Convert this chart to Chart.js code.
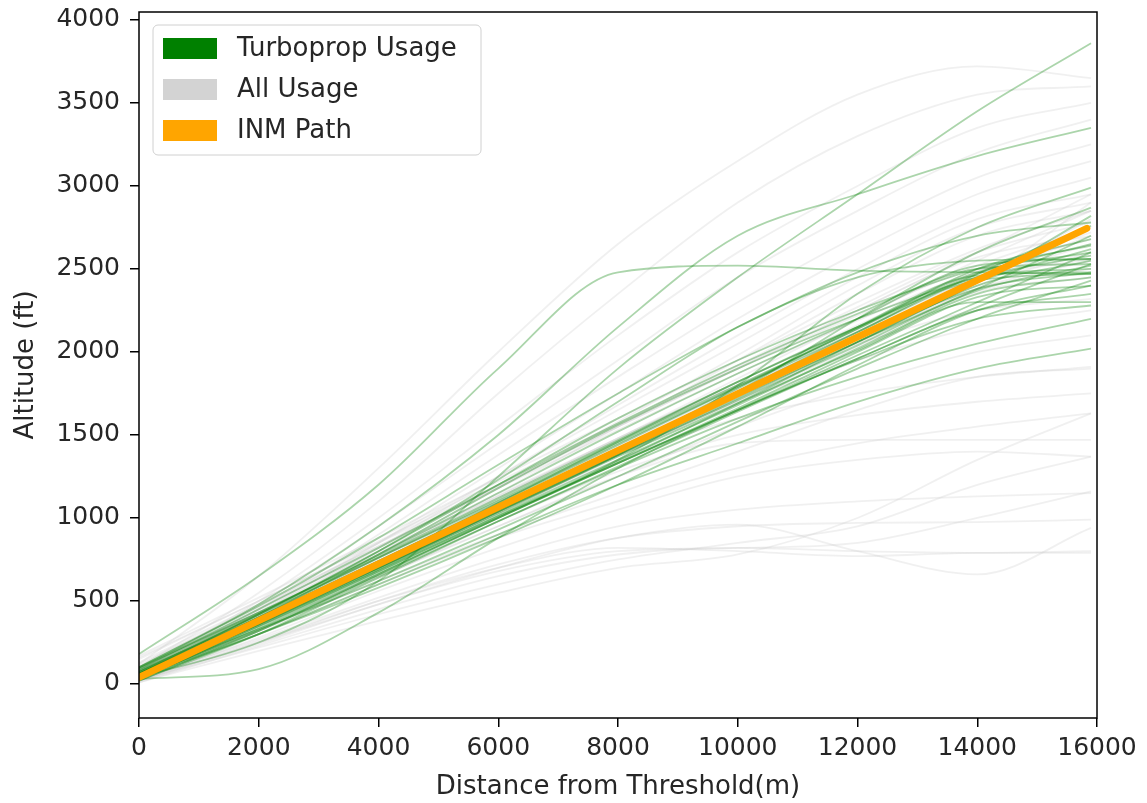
<!DOCTYPE html>
<html>
<head>
<meta charset="utf-8">
<script src="https://cdn.jsdelivr.net/npm/chart.js@4.4.1/dist/chart.umd.min.js"></script>
<style>
  html, body { margin: 0; padding: 0; background: #ffffff; }
  #wrap { width: 1147px; height: 803px; }
</style>
</head>
<body>
<div id="wrap"><canvas id="c" width="1147" height="803"></canvas></div>
<script>
// ---------------- DATA ----------------
const distances = [0, 2000, 4000, 6000, 8000, 10000, 12000, 14000, 15900];

const xTickValues = [0, 2000, 4000, 6000, 8000, 10000, 12000, 14000, 16000];
const yTickValues = [0, 500, 1000, 1500, 2000, 2500, 3000, 3500, 4000];

const legendLabels = ['Turboprop Usage', 'All Usage', 'INM Path'];

const inmDistances = [0, 15830];
const inmAltitudes = [40, 2745];

// Turboprop trajectories (altitude in ft at each distance)
const turbopropLines = [
  [60, 400, 740, 1080, 1420, 1760, 2100, 2420, 2620],
  [50, 370, 700, 1040, 1380, 1720, 2060, 2400, 2550],
  [80, 420, 760, 1100, 1450, 1790, 2120, 2450, 2500],
  [40, 360, 690, 1020, 1350, 1680, 2020, 2350, 2450],
  [100, 430, 770, 1120, 1470, 1820, 2150, 2480, 2600],
  [30, 340, 670, 1000, 1330, 1660, 2000, 2330, 2400],
  [60, 390, 730, 1070, 1410, 1750, 2080, 2380, 2480],
  [70, 410, 760, 1110, 1460, 1800, 2140, 2500, 2680],
  [50, 380, 710, 1050, 1390, 1730, 2060, 2380, 2700],
  [90, 430, 780, 1150, 1520, 1870, 2200, 2520, 2560],
  [40, 360, 700, 1040, 1370, 1690, 2010, 2300, 2300],
  [20, 300, 640, 980, 1310, 1640, 1960, 2250, 2350],
  [50, 360, 690, 1030, 1380, 1760, 2200, 2600, 2870],
  [40, 330, 660, 1000, 1350, 1800, 2350, 2750, 2990],
  [180, 650, 1200, 1900, 2480, 2520, 2490, 2480, 2470],
  [40, 250, 620, 1250, 1900, 2450, 2950, 3450, 3860],
  [100, 480, 950, 1500, 2150, 2700, 2950, 3180, 3350],
  [30, 300, 600, 900, 1200, 1450, 1700, 1900, 2020],
  [40, 320, 650, 980, 1300, 1600, 1850, 2050, 2200],
  [30, 90, 430, 880, 1300, 1650, 1950, 2200, 2280],
  [60, 420, 800, 1200, 1600, 1950, 2250, 2500, 2640],
  [50, 400, 780, 1180, 1560, 1900, 2200, 2450, 2580],
  [70, 380, 720, 1060, 1400, 1760, 2120, 2470, 2760],
  [40, 350, 680, 1010, 1340, 1690, 2060, 2420, 2820],
  [90, 450, 820, 1200, 1570, 1920, 2230, 2500, 2530],
  [50, 370, 720, 1090, 1460, 1820, 2150, 2430, 2470],
  [60, 390, 720, 1050, 1380, 1710, 2040, 2370, 2520],
  [30, 350, 680, 1010, 1330, 1650, 1960, 2270, 2530],
  [80, 400, 740, 1090, 1440, 1790, 2140, 2470, 2650],
  [20, 320, 660, 1000, 1330, 1650, 1980, 2300, 2600],
  [100, 470, 880, 1320, 1750, 2150, 2480, 2700, 2780],
  [50, 330, 620, 930, 1250, 1580, 1900, 2200, 2430],
  [70, 420, 800, 1230, 1700, 2150, 2450, 2550, 2560],
  [40, 300, 580, 880, 1200, 1550, 1920, 2250, 2400],
  [60, 380, 700, 1040, 1400, 1780, 2150, 2460, 2480]
];

// All-usage trajectories (altitude in ft at each distance)
const allUsageLines = [
  [120, 650, 1300, 2000, 2650, 3150, 3550, 3720, 3650],
  [100, 550, 1100, 1750, 2350, 2900, 3300, 3550, 3600],
  [80, 500, 1000, 1550, 2100, 2600, 3000, 3350, 3500],
  [90, 480, 950, 1450, 1950, 2450, 2850, 3200, 3400],
  [60, 450, 900, 1380, 1850, 2300, 2700, 3050, 3250],
  [70, 430, 850, 1300, 1750, 2200, 2600, 2950, 3150],
  [50, 420, 820, 1250, 1680, 2100, 2500, 2850, 3050],
  [80, 450, 850, 1250, 1650, 2050, 2450, 2800, 2950],
  [60, 400, 780, 1180, 1580, 1980, 2400, 2750, 2900],
  [40, 380, 760, 1150, 1550, 1950, 2350, 2700, 2850],
  [80, 420, 760, 1100, 1440, 1780, 2120, 2450, 2700],
  [60, 400, 740, 1080, 1420, 1760, 2100, 2430, 2650],
  [120, 460, 800, 1140, 1480, 1820, 2160, 2480, 2720],
  [40, 380, 720, 1060, 1400, 1740, 2080, 2400, 2600],
  [150, 500, 850, 1200, 1550, 1900, 2220, 2520, 2750],
  [100, 440, 790, 1130, 1470, 1800, 2130, 2440, 2560],
  [20, 360, 700, 1040, 1380, 1720, 2060, 2380, 2500],
  [70, 410, 750, 1090, 1430, 1770, 2110, 2440, 2800],
  [130, 480, 830, 1180, 1530, 1870, 2190, 2490, 2680],
  [50, 390, 730, 1070, 1410, 1750, 2090, 2420, 2900],
  [90, 430, 780, 1130, 1480, 1840, 2200, 2550, 2850],
  [60, 380, 700, 1030, 1370, 1710, 2050, 2380, 2550],
  [110, 470, 830, 1190, 1550, 1900, 2250, 2600, 2950],
  [30, 370, 710, 1050, 1380, 1700, 2030, 2360, 2450],
  [80, 450, 820, 1190, 1560, 1920, 2270, 2600, 2780],
  [170, 520, 880, 1240, 1600, 1950, 2300, 2620, 2850],
  [160, 500, 860, 1220, 1570, 1910, 2250, 2570, 2700],
  [50, 350, 650, 950, 1250, 1550, 1800, 2000, 2100],
  [40, 320, 620, 900, 1150, 1400, 1650, 1850, 1900],
  [30, 300, 600, 880, 1100, 1300, 1450, 1550, 1630],
  [20, 280, 560, 820, 1050, 1250, 1350, 1400, 1370],
  [30, 270, 520, 760, 950, 1050, 1100, 1130, 1150],
  [20, 250, 500, 720, 880, 950, 970, 975, 990],
  [10, 230, 450, 650, 780, 820, 800, 790, 800],
  [20, 250, 480, 700, 880, 960, 800, 660, 940],
  [30, 260, 500, 700, 820, 800, 770, 790, 790],
  [10, 200, 380, 550, 700, 780, 1000, 1350, 1630],
  [20, 220, 420, 600, 750, 850, 950, 1200, 1370],
  [20, 240, 480, 680, 800, 820, 850, 1000, 1160],
  [40, 320, 640, 950, 1250, 1450, 1470, 1470, 1470],
  [50, 360, 700, 1030, 1350, 1600, 1750, 1850, 1910],
  [40, 330, 660, 980, 1280, 1500, 1620, 1700, 1750],
  [60, 380, 720, 1060, 1400, 1700, 1950, 2150, 2250],
  [70, 400, 760, 1120, 1480, 1800, 2050, 2250, 2320]
];

// ---------------- CHART ----------------
const GREEN = 'rgba(0,128,0,0.33)';
const GREY = 'rgba(200,200,200,0.28)';
const ORANGE = '#ffa500';

function toPoints(xs, ys) { return xs.map((x, i) => ({ x: x, y: ys[i] })); }

const datasets = [];
datasets.push({
  label: legendLabels[2],
  data: toPoints(inmDistances, inmAltitudes),
  borderColor: ORANGE, borderWidth: 7, borderCapStyle: 'round',
  pointRadius: 0, order: 0
});
turbopropLines.forEach(ys => datasets.push({
  label: legendLabels[0],
  data: toPoints(distances, ys),
  borderColor: GREEN, borderWidth: 1.8,
  cubicInterpolationMode: 'monotone', pointRadius: 0, order: 1
}));
allUsageLines.forEach(ys => datasets.push({
  label: legendLabels[1],
  data: toPoints(distances, ys),
  borderColor: GREY, borderWidth: 1.8,
  cubicInterpolationMode: 'monotone', pointRadius: 0, order: 2
}));

const FONT = "'DejaVu Sans', sans-serif";
const TEXT = '#262626';

const framePlugin = {
  id: 'frame',
  afterDatasetsDraw(chart) {
    const { ctx, chartArea: a } = chart;
    ctx.save();
    ctx.strokeStyle = '#000';
    ctx.lineWidth = 1.5;
    ctx.strokeRect(a.left, a.top, a.right - a.left, a.bottom - a.top);
    ctx.restore();
  }
};

const legendPlugin = {
  id: 'boxLegend',
  afterDraw(chart) {
    const { ctx, chartArea: a } = chart;
    const colors = ['#008000', '#d3d3d3', ORANGE];
    const bx = a.left + 14, by = a.top + 13, bw = 328, bh = 130;
    ctx.save();
    ctx.beginPath();
    ctx.roundRect(bx, by, bw, bh, 5);
    ctx.fillStyle = 'rgba(255,255,255,0.85)';
    ctx.fill();
    ctx.strokeStyle = '#d0d0d0';
    ctx.lineWidth = 1;
    ctx.stroke();
    ctx.font = '26px ' + FONT;
    ctx.textBaseline = 'middle';
    ctx.textAlign = 'left';
    legendLabels.forEach((lab, i) => {
      const cy = by + 23.5 + i * 41;
      ctx.fillStyle = colors[i];
      ctx.fillRect(bx + 10, cy - 10.5, 54, 21);
      ctx.fillStyle = TEXT;
      ctx.fillText(lab, bx + 84, cy + 1);
    });
    ctx.restore();
  }
};

new Chart(document.getElementById('c'), {
  type: 'line',
  data: { datasets: datasets },
  options: {
    responsive: false,
    animation: false,
    events: [],
    layout: { padding: { top: 12, right: 50, left: 0, bottom: 0 } },
    plugins: { legend: { display: false }, tooltip: { enabled: false } },
    scales: {
      x: {
        type: 'linear', min: 0, max: 16000,
        afterBuildTicks: s => { s.ticks = xTickValues.map(v => ({ value: v })); },
        afterFit: s => { s.height = 85; s.paddingLeft = 0; s.paddingRight = 0; },
        ticks: { font: { family: FONT, size: 25 }, color: TEXT, padding: 6, maxRotation: 0,
                 callback: v => String(v) },
        grid: { display: true, drawOnChartArea: false, drawTicks: true, tickLength: 9,
                color: '#000', lineWidth: 1.5 },
        border: { display: false },
        title: { display: true, text: 'Distance from Threshold(m)', color: TEXT,
                 font: { family: FONT, size: 26 }, padding: { top: 0, bottom: 0 } }
      },
      y: {
        type: 'linear', min: -205, max: 4048,
        afterBuildTicks: s => { s.ticks = yTickValues.map(v => ({ value: v })); },
        afterFit: s => { s.width = 139; s.paddingTop = 0; s.paddingBottom = 0; },
        ticks: { font: { family: FONT, size: 25 }, color: TEXT, padding: 10,
                 callback: v => String(v) },
        grid: { display: true, drawOnChartArea: false, drawTicks: true, tickLength: 9,
                color: '#000', lineWidth: 1.5 },
        border: { display: false },
        title: { display: true, text: 'Altitude (ft)', color: TEXT,
                 font: { family: FONT, size: 26 }, padding: { top: 11, bottom: 0 } }
      }
    }
  },
  plugins: [framePlugin, legendPlugin]
});
</script>
</body>
</html>
